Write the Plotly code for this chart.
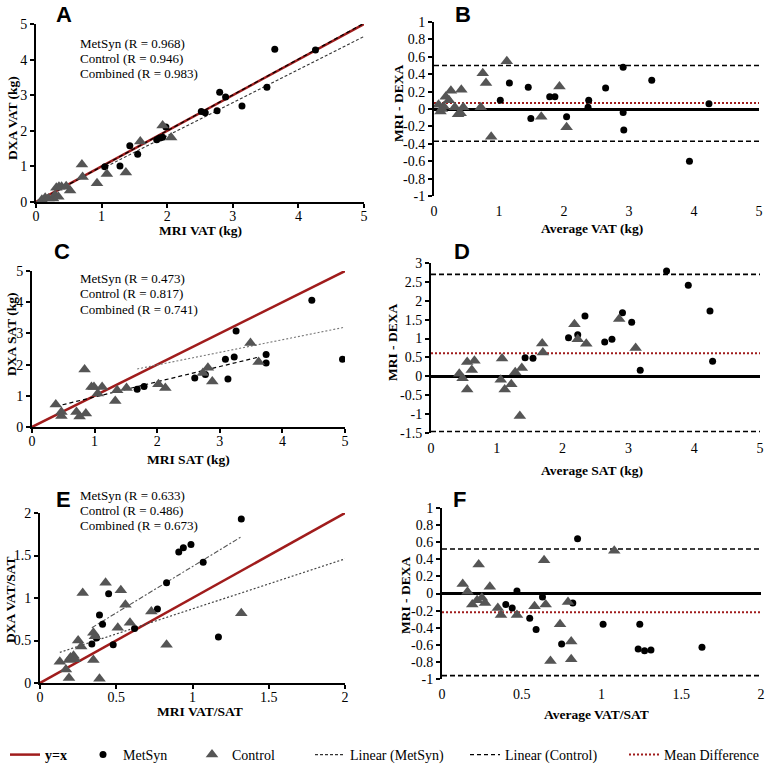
import plotly.graph_objects as go

# ---------------- DATA ----------------
# Panel A: MRI VAT vs DXA VAT
a_met_x = [1.05, 1.28, 1.43, 1.55, 1.84, 1.89, 1.93, 1.98, 2.52, 2.58, 2.76, 2.80, 2.89, 3.14, 3.52, 3.64, 4.26]
a_met_y = [0.99, 1.01, 1.58, 1.34, 1.75, 1.80, 1.82, 2.11, 2.54, 2.51, 2.56, 3.08, 2.95, 2.70, 3.22, 4.29, 4.27]
a_con_x = [0.09, 0.14, 0.19, 0.26, 0.29, 0.31, 0.35, 0.39, 0.34, 0.46, 0.52, 0.70, 0.71, 0.93, 1.08, 1.37, 1.59, 1.93, 2.06]
a_con_y = [0.06, 0.12, 0.10, 0.10, 0.20, 0.40, 0.43, 0.43, 0.15, 0.44, 0.32, 1.05, 0.70, 0.53, 0.79, 0.83, 1.70, 2.15, 1.81]
a_fit_met_x = [1.0, 5.0]
a_fit_met_y = [0.93, 4.65]
a_fit_con_x = [0.05, 5.0]
a_fit_con_y = [0.04, 5.02]
a_r_text = ["MetSyn (R = 0.968)", "Control (R = 0.946)", "Combined (R = 0.983)"]

# Panel B: Bland-Altman VAT
b_met_x = [1.02, 1.16, 1.45, 1.49, 1.78, 1.86, 2.04, 2.38, 2.37, 2.64, 2.91, 2.91, 2.92, 3.35, 3.93, 4.23]
b_met_y = [0.10, 0.30, 0.25, -0.11, 0.14, 0.14, -0.09, 0.10, 0.02, 0.24, 0.48, -0.04, -0.24, 0.33, -0.60, 0.06]
b_con_x = [0.07, 0.10, 0.12, 0.15, 0.18, 0.23, 0.26, 0.32, 0.37, 0.41, 0.42, 0.45, 0.72, 0.75, 0.80, 0.88, 1.12, 1.65, 1.93, 2.04]
b_con_y = [0.05, -0.03, 0.00, 0.03, 0.14, 0.10, 0.21, 0.02, -0.06, -0.05, 0.22, 0.02, 0.02, 0.41, 0.30, -0.32, 0.55, -0.09, 0.26, -0.21]
b_mean = 0.07
b_upper = 0.50
b_lower = -0.37

# Panel C: MRI SAT vs DXA SAT
c_met_x = [1.68, 1.79, 2.60, 2.77, 3.13, 3.09, 3.23, 3.26, 3.74, 3.74, 4.47, 4.96]
c_met_y = [1.21, 1.30, 1.57, 1.68, 1.54, 2.17, 2.24, 3.08, 2.32, 2.05, 4.06, 2.17]
c_con_x = [0.38, 0.47, 0.47, 0.71, 0.76, 0.86, 0.84, 0.95, 0.99, 1.05, 1.12, 1.33, 1.36, 1.51, 2.02, 2.13, 2.73, 2.81, 2.88, 3.49, 3.62]
c_con_y = [0.72, 0.48, 0.35, 0.48, 0.34, 0.43, 1.84, 1.28, 1.28, 1.07, 1.28, 0.83, 1.18, 1.25, 1.37, 1.25, 1.73, 1.90, 1.46, 2.69, 2.08]
c_fit_met_x = [1.68, 5.0]
c_fit_met_y = [1.86, 3.20]
c_fit_con_x = [0.38, 3.62]
c_fit_con_y = [0.66, 2.24]
c_r_text = ["MetSyn (R = 0.473)", "Control (R = 0.817)", "Combined (R = 0.741)"]

# Panel D: Bland-Altman SAT
d_met_x = [1.43, 1.55, 2.09, 2.23, 2.34, 2.64, 2.75, 2.91, 3.05, 3.18, 3.58, 3.91, 4.24, 4.28]
d_met_y = [0.49, 0.48, 1.02, 1.10, 1.60, 0.91, 0.98, 1.68, 1.43, 0.16, 2.79, 2.41, 1.73, 0.40]
d_con_x = [0.43, 0.48, 0.55, 0.55, 0.62, 0.66, 1.06, 1.08, 1.12, 1.22, 1.28, 1.38, 1.35, 1.69, 1.70, 2.18, 2.23, 2.36, 2.86, 3.11]
d_con_y = [0.07, -0.05, 0.38, -0.35, 0.17, 0.41, -0.09, 0.47, -0.35, -0.21, 0.11, 0.22, -1.05, 0.87, 0.63, 1.38, 0.98, 0.86, 1.52, 0.75]
d_mean = 0.61
d_upper = 2.70
d_lower = -1.46

# Panel E: MRI VAT/SAT vs DXA VAT/SAT
e_met_x = [0.34, 0.37, 0.39, 0.41, 0.45, 0.48, 0.62, 0.77, 0.83, 0.91, 0.94, 0.99, 1.07, 1.17, 1.32]
e_met_y = [0.46, 0.53, 0.80, 0.69, 1.05, 0.45, 0.64, 0.87, 1.18, 1.54, 1.59, 1.63, 1.42, 0.54, 1.93]
e_con_x = [0.13, 0.17, 0.19, 0.19, 0.20, 0.22, 0.23, 0.25, 0.27, 0.28, 0.35, 0.35, 0.36, 0.39, 0.43, 0.51, 0.53, 0.56, 0.59, 0.73, 0.83, 1.32]
e_con_y = [0.25, 0.16, 0.06, 0.27, 0.30, 0.32, 0.28, 0.50, 0.43, 1.06, 0.59, 0.27, 0.55, 0.05, 1.18, 0.65, 1.09, 0.92, 0.71, 0.84, 0.45, 0.82]
e_fit_met_x = [0.34, 1.32]
e_fit_met_y = [0.65, 1.72]
e_fit_con_x = [0.13, 2.0]
e_fit_con_y = [0.36, 1.46]
e_r_text = ["MetSyn (R = 0.633)", "Control (R = 0.486)", "Combined (R = 0.673)"]

# Panel F: Bland-Altman VAT/SAT
f_met_x = [0.40, 0.44, 0.47, 0.55, 0.59, 0.63, 0.75, 0.82, 0.85, 1.01, 1.23, 1.24, 1.27, 1.31, 1.63]
f_met_y = [-0.13, -0.17, 0.03, -0.29, -0.42, -0.04, -0.59, -0.11, 0.64, -0.36, -0.65, -0.36, -0.67, -0.66, -0.63]
f_con_x = [0.13, 0.16, 0.19, 0.22, 0.23, 0.25, 0.27, 0.30, 0.35, 0.37, 0.47, 0.58, 0.64, 0.65, 0.68, 0.74, 0.79, 0.81, 0.81, 1.08]
f_con_y = [0.11, 0.02, -0.13, -0.08, 0.34, -0.05, -0.11, 0.08, -0.17, -0.25, -0.25, -0.15, 0.39, -0.13, -0.79, -0.36, -0.10, -0.56, -0.77, 0.50]
f_mean = -0.22
f_upper = 0.52
f_lower = -0.96

# axis ranges / tick labels
kg_range = [0, 5]
kg_ticks = [0, 1, 2, 3, 4, 5]
kg_text = ["0", "1", "2", "3", "4", "5"]
ratio_range = [0, 2]
ratio_ticks = [0, 0.5, 1, 1.5, 2]
ratio_tick_text = ["0", "0.5", "1", "1.5", "2"]
ba1_ticks = [1, 0.8, 0.6, 0.4, 0.2, 0, -0.2, -0.4, -0.6, -0.8, -1]
ba1_text = ["1", "0.8", "0.6", "0.4", "0.2", "0", "-0.2", "-0.4", "-0.6", "-0.8", "-1"]
ba2_ticks = [3, 2.5, 2, 1.5, 1, 0.5, 0, -0.5, -1, -1.5]
ba2_text = ["3", "2.5", "2", "1.5", "1", "0.5", "0", "-0.5", "-1", "-1.5"]

# ---------------- STYLE ----------------
W = H = 768
SERIF = "Liberation Serif"
RED = "#a01c1c"
TRI = "#555555"

def px_x(p):
    return p / W

def px_y(p):
    return 1 - p / H

fig = go.Figure()

panels = {
    # name: (xaxis id, yaxis id, x px domain, y px domain (top,bottom))
    "A": ("x", "y", (36, 364), (24, 202)),
    "B": ("x2", "y2", (434, 759), (22, 196)),
    "C": ("x3", "y3", (32, 345), (271, 427)),
    "D": ("x4", "y4", (431, 760), (263, 433)),
    "E": ("x5", "y5", (40, 345), (513, 683)),
    "F": ("x6", "y6", (442, 761), (508, 679)),
}

def add_scatter(panel, mx, my, cx, cy, legend=False):
    xa, ya = panels[panel][0], panels[panel][1]
    fig.add_trace(go.Scatter(x=mx, y=my, mode="markers", name="MetSyn",
                             marker=dict(symbol="circle", size=7, color="black"),
                             xaxis=xa, yaxis=ya, showlegend=legend, legend="legend2"))
    fig.add_trace(go.Scatter(x=cx, y=cy, mode="markers", name="Control",
                             marker=dict(symbol="triangle-up", size=11, color=TRI),
                             xaxis=xa, yaxis=ya, showlegend=legend, legend="legend3"))

def add_identity(panel, rng, legend=False):
    xa, ya = panels[panel][0], panels[panel][1]
    fig.add_trace(go.Scatter(x=rng, y=rng, mode="lines", name="<b>y=x</b>",
                             line=dict(color=RED, width=2.5),
                             xaxis=xa, yaxis=ya, showlegend=legend, legend="legend"))

def add_fits(panel, mfx, mfy, cfx, cfy, mstyle, cstyle, legend=False):
    xa, ya = panels[panel][0], panels[panel][1]
    fig.add_trace(go.Scatter(x=mfx, y=mfy, mode="lines", name="Linear (MetSyn)",
                             line=mstyle, xaxis=xa, yaxis=ya,
                             showlegend=legend, legend="legend4"))
    fig.add_trace(go.Scatter(x=cfx, y=cfy, mode="lines", name="Linear (Control)",
                             line=cstyle, xaxis=xa, yaxis=ya,
                             showlegend=legend, legend="legend5"))

def add_ba_lines(panel, rng, mean, up, lo, legend=False):
    xa, ya = panels[panel][0], panels[panel][1]
    for v in (up, lo):
        fig.add_trace(go.Scatter(x=rng, y=[v, v], mode="lines",
                                 line=dict(color="black", width=1.6, dash="5px,3px"),
                                 xaxis=xa, yaxis=ya, showlegend=False, hoverinfo="skip"))
    fig.add_trace(go.Scatter(x=rng, y=[mean, mean], mode="lines", name="Mean Difference",
                             line=dict(color=RED, width=2, dash="2px,2px"),
                             xaxis=xa, yaxis=ya, showlegend=legend, legend="legend6"))

dash_black = dict(color="black", width=1.2, dash="4px,3px")
dot_gray = dict(color="#444444", width=1.2, dash="2px,2px")
dashdot_gray = dict(color="#555555", width=1.1, dash="5px,2px,2px,2px")

# A
add_identity("A", kg_range, legend=True)
add_fits("A", a_fit_met_x, a_fit_met_y, a_fit_con_x, a_fit_con_y,
         dict(color="#333333", width=1.1, dash="3px,2px"), dash_black, legend=True)
add_scatter("A", a_met_x, a_met_y, a_con_x, a_con_y, legend=True)
# B
add_ba_lines("B", kg_range, b_mean, b_upper, b_lower, legend=True)
add_scatter("B", b_met_x, b_met_y, b_con_x, b_con_y)
# C
add_identity("C", kg_range)
add_fits("C", c_fit_met_x, c_fit_met_y, c_fit_con_x, c_fit_con_y,
         dict(color="#777777", width=1.1, dash="2px,2px"), dash_black)
add_scatter("C", c_met_x, c_met_y, c_con_x, c_con_y)
# D
add_ba_lines("D", kg_range, d_mean, d_upper, d_lower)
add_scatter("D", d_met_x, d_met_y, d_con_x, d_con_y)
# E
add_identity("E", ratio_range)
add_fits("E", e_fit_met_x, e_fit_met_y, e_fit_con_x, e_fit_con_y, dashdot_gray, dot_gray)
add_scatter("E", e_met_x, e_met_y, e_con_x, e_con_y)
# F
add_ba_lines("F", ratio_range, f_mean, f_upper, f_lower)
add_scatter("F", f_met_x, f_met_y, f_con_x, f_con_y)

tick_font = dict(family=SERIF, size=14, color="black")
title_font = dict(family=SERIF, size=13.5, color="black")

def axis_key(a):
    return ("xaxis" if a[0] == "x" else "yaxis") + a[1:]

def scatter_axes(panel, rng, tv, tt):
    xa, ya, (x0, x1), (y0, y1) = panels[panel]
    common = dict(showline=True, linecolor="black", linewidth=2, ticks="outside",
                  ticklen=4, tickwidth=1.5, tickcolor="black", showgrid=False,
                  zeroline=False, tickfont=tick_font, range=rng, tickvals=tv, ticktext=tt,
                  fixedrange=True, automargin=False)
    fig.layout[axis_key(xa)] = dict(common, domain=[px_x(x0), px_x(x1)], anchor=ya,
                                    ticklabelstandoff=-4)
    fig.layout[axis_key(ya)] = dict(common, domain=[px_y(y1), px_y(y0)], anchor=xa)

def ba_axes(panel, xrng, xtv, xtt, yrng, ytv, ytt):
    xa, ya, (x0, x1), (y0, y1) = panels[panel]
    fig.layout[axis_key(xa)] = dict(domain=[px_x(x0), px_x(x1)], anchor=ya, range=xrng,
                                    tickvals=xtv, ticktext=xtt, showline=False, ticks="",
                                    showgrid=False, zeroline=False, tickfont=tick_font,
                                    fixedrange=True, automargin=False, ticklabelstandoff=5)
    fig.layout[axis_key(ya)] = dict(domain=[px_y(y1), px_y(y0)], anchor=xa, range=yrng,
                                    tickvals=ytv, ticktext=ytt, showline=True, linecolor="black",
                                    linewidth=2, ticks="outside", ticklen=4, tickwidth=1.5,
                                    tickcolor="black", showgrid=False, zeroline=True,
                                    zerolinecolor="black", zerolinewidth=2.5,
                                    tickfont=tick_font, fixedrange=True, automargin=False)

scatter_axes("A", kg_range, kg_ticks, kg_text)
ba_axes("B", kg_range, kg_ticks, kg_text, [-1, 1], ba1_ticks, ba1_text)
scatter_axes("C", kg_range, kg_ticks, kg_text)
ba_axes("D", kg_range, kg_ticks, kg_text, [-1.5, 3], ba2_ticks, ba2_text)
scatter_axes("E", ratio_range, ratio_ticks, ratio_tick_text)
ba_axes("F", ratio_range, ratio_ticks, ratio_tick_text, [-1, 1], ba1_ticks, ba1_text)

annotations = []
# panel letters: (text, x px, top px)
letters = [("A", 64, 0), ("B", 463, 0), ("C", 62, 237), ("D", 462, 237), ("E", 63, 485), ("F", 459, 485)]
for t, x, y in letters:
    annotations.append(dict(text="<b>" + t + "</b>", x=px_x(x), y=px_y(y), xref="paper", yref="paper",
                            xanchor="center", yanchor="top", showarrow=False,
                            font=dict(family="Liberation Sans", size=22, color="black")))
for texts, ys in ((a_r_text, (43, 58, 73)), (c_r_text, (278, 293, 309)), (e_r_text, (495, 510, 525))):
    for t, y in zip(texts, ys):
        annotations.append(dict(text=t, x=px_x(78), y=px_y(y), xref="paper", yref="paper",
                                xanchor="left", yanchor="middle", showarrow=False,
                                font=dict(family=SERIF, size=13, color="black")))

# axis titles (text, x px, y px, rotation)
axis_titles = [
    ("MRI VAT (kg)", 200, 230, 0), ("DXA VAT (kg)", 12, 118, -90),
    ("Average VAT (kg)", 592, 229, 0), ("MRI - DEXA", 399, 104, -90),
    ("MRI SAT (kg)", 188, 459, 0), ("DXA SAT (kg)", 12, 334, -90),
    ("Average SAT (kg)", 592, 470, 0), ("MRI - DEXA", 393, 343, -90),
    ("MRI VAT/SAT", 200, 711, 0), ("DXA VAT/SAT", 10, 600, -90),
    ("Average VAT/SAT", 596, 714, 0), ("MRI - DEXA", 405, 596, -90),
]
for t, x, y, rot in axis_titles:
    annotations.append(dict(text="<b>" + t + "</b>", x=px_x(x), y=px_y(y), xref="paper", yref="paper",
                            xanchor="center", yanchor="middle", showarrow=False, textangle=rot,
                            font=title_font))

leg_font = dict(family=SERIF, size=14, color="black")
def legend_at(xp):
    return dict(x=px_x(xp), y=px_y(755), xanchor="left", yanchor="middle", orientation="h",
                font=leg_font, bgcolor="rgba(0,0,0,0)", borderwidth=0)

fig.update_layout(
    width=W, height=H,
    margin=dict(l=0, r=0, t=0, b=0, autoexpand=False),
    paper_bgcolor="white", plot_bgcolor="white",
    annotations=annotations,
    legend=legend_at(5),
    legend2=legend_at(83),
    legend3=legend_at(192),
    legend4=legend_at(310),
    legend5=legend_at(465),
    legend6=legend_at(624),
    hovermode=False,
)

# the page's default 8px body margin would otherwise offset the 768x768 figure
fig.write_html("out.html", config={"displayModeBar": False},
               post_script="document.body.style.margin='0px';document.body.style.overflow='hidden';")
